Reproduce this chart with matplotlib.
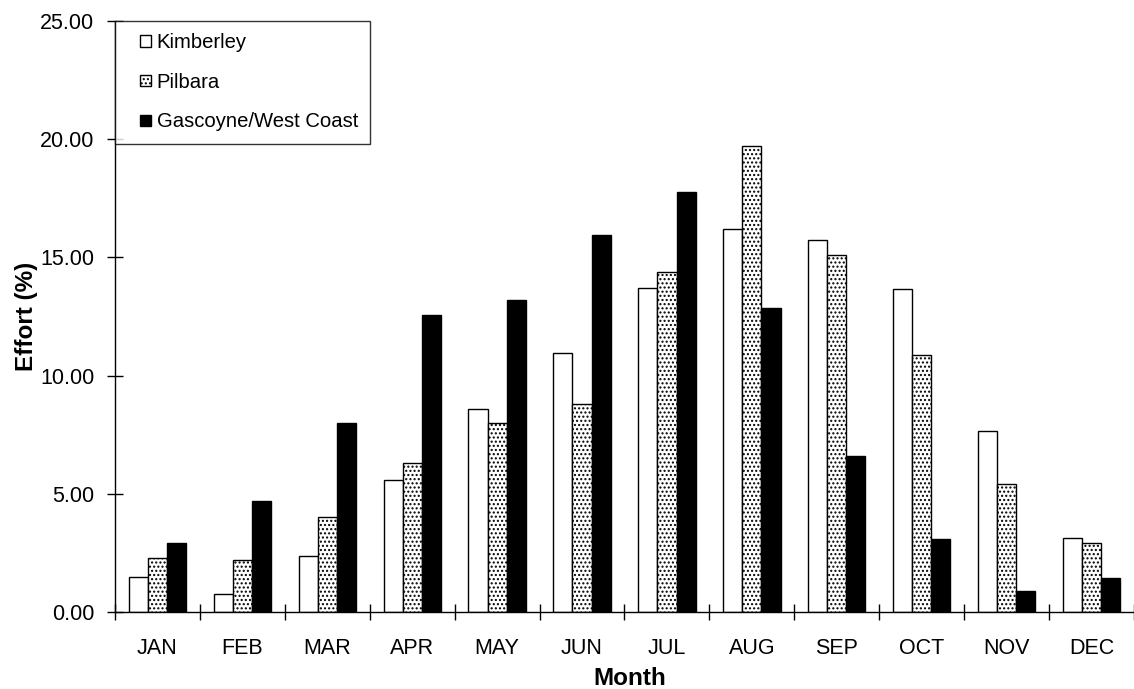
import numpy as np
import matplotlib.pyplot as plt
import matplotlib.patches as mpatches
from matplotlib.container import BarContainer
from matplotlib.legend_handler import HandlerPatch, update_from_first_child

plt.rcParams['font.family'] = ['Liberation Sans', 'DejaVu Sans']
plt.rcParams['hatch.linewidth'] = 1.0

# Monthly effort by region (%)
months = ['JAN', 'FEB', 'MAR', 'APR', 'MAY', 'JUN', 'JUL', 'AUG', 'SEP', 'OCT', 'NOV', 'DEC']
kimberley = [1.5, 0.75, 2.35, 5.6, 8.6, 10.95, 13.7, 16.2, 15.75, 13.65, 7.65, 3.15]
pilbara = [2.3, 2.2, 4.0, 6.3, 8.0, 8.8, 14.4, 19.7, 15.1, 10.85, 5.4, 2.9]
gascoyne = [2.9, 4.7, 8.0, 12.55, 13.2, 15.95, 17.75, 12.85, 6.6, 3.1, 0.9, 1.45]

fig = plt.figure(figsize=(11.34, 6.89), dpi=100)
ax = fig.add_axes([0.1014, 0.1118, 0.8986, 0.8578])

x = np.arange(len(months))
w = 0.225

ax.bar(x - w, kimberley, w, color='white', edgecolor='black', linewidth=1, label='Kimberley')
ax.bar(x, pilbara, w, color='white', edgecolor='black', linewidth=1, hatch='....', label='Pilbara')
ax.bar(x + w, gascoyne, w, color='black', edgecolor='black', linewidth=1, label='Gascoyne/West Coast')

ax.set_xlim(-0.5, -0.5 + 1019 / 86)
ax.set_ylim(0, 25)
ax.set_yticks(np.arange(0, 26, 5))
ax.set_yticklabels([f'{v:.2f}' for v in np.arange(0, 26, 5)])

# category boundary ticks, labels centred in between
ax.set_xticks(np.arange(-0.5, 12, 1))
ax.set_xticklabels([])
ax.set_xticks(x, minor=True)
ax.set_xticklabels(months, minor=True)
ax.tick_params(axis='x', which='major', direction='inout', length=12, width=1)
ax.tick_params(axis='x', which='minor', length=0, pad=19, labelsize=15.5)
ax.tick_params(axis='y', direction='inout', length=12, width=1, labelsize=15.5, pad=9)

for s in ['top', 'right']:
    ax.spines[s].set_visible(False)
for s in ['left', 'bottom']:
    ax.spines[s].set_linewidth(1)

ax.set_xlabel('Month', fontsize=17.5, fontweight='bold')
ax.xaxis.set_label_coords(0.505, -0.093)
ax.set_ylabel('Effort (%)', fontsize=17.5, fontweight='bold')
ax.yaxis.set_label_coords(-0.076, 0.5)


# small square key sitting at the right end of a wider handle box
def square_key(legend, orig_handle, xdescent, ydescent, width, height, fontsize):
    return mpatches.Rectangle((-xdescent + width - height, -ydescent), height, height)


leg = ax.legend(loc='upper left', bbox_to_anchor=(0, 1), fontsize=14.6, frameon=True,
                fancybox=False, edgecolor='black', handlelength=1.2, handleheight=0.5,
                handletextpad=0.25, labelspacing=1.02, borderpad=0.6, borderaxespad=0,
                handler_map={BarContainer: HandlerPatch(patch_func=square_key,
                                                        update_func=update_from_first_child)})
leg.get_frame().set_linewidth(1)

plt.savefig('out.png', dpi=100)
